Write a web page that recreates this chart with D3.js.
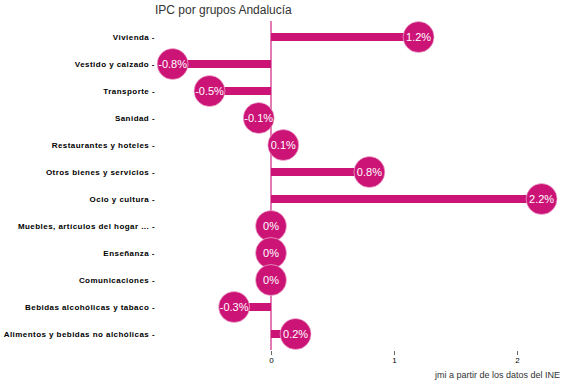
<!DOCTYPE html>
<html>
<head>
<meta charset="utf-8">
<script src="https://cdn.jsdelivr.net/npm/d3@7"></script>
<style>
body{margin:0;background:#fff;}
svg{font-family:"Liberation Sans",Arial,sans-serif;}
</style>
</head>
<body>
<svg id="chart" width="566" height="384"></svg>
<script>
const categories = ["Vivienda","Vestido y calzado","Transporte","Sanidad","Restaurantes y hoteles","Otros bienes y servicios","Ocio y cultura","Muebles, artículos del hogar ...","Enseñanza","Comunicaciones","Bebidas alcohólicas y tabaco","Alimentos y bebidas no alchólicas"];
const values = [1.2,-0.8,-0.5,-0.1,0.1,0.8,2.2,0,0,0,-0.3,0.2];
const labels = ["1.2%","-0.8%","-0.5%","-0.1%","0.1%","0.8%","2.2%","0%","0%","0%","-0.3%","0.2%"];
const xTicks = [0,1,2];
const title = "IPC por grupos Andalucía";
const caption = "jmi a partir de los datos del INE";

const color = "#cc1477";
const svg = d3.select("#chart");
const x = d3.scaleLinear().domain([0,1]).range([271,394]);
const y = d3.scaleBand().domain(categories).range([23.5,347.5]).padding(0);

// zero line
svg.append("line").attr("x1",x(0)).attr("x2",x(0)).attr("y1",21).attr("y2",350)
  .attr("stroke","#e27ab3").attr("stroke-width",2);

// y axis labels
const yAxis = d3.axisLeft(y).tickSize(0).tickPadding(0);
const gy = svg.append("g").attr("transform","translate(155,0)").call(yAxis);
gy.select(".domain").remove();
gy.selectAll(".tick line").remove();
gy.selectAll(".tick text").attr("fill","#000").style("font-size","8px").style("font-weight","600").style("letter-spacing","0.45px").attr("x",0)
  .text(d=>d+" -");

// x axis
const xAxis = d3.axisBottom(x).tickValues(xTicks).tickSize(4).tickPadding(2).tickFormat(d3.format("d"));
const gx = svg.append("g").attr("transform","translate(0,351)").call(xAxis);
gx.select(".domain").remove();
gx.selectAll(".tick line").attr("stroke","#666");
gx.selectAll(".tick text").attr("fill","#000").style("font-size","8px");

// bars
const bh = 8;
svg.append("g").selectAll("rect").data(values).join("rect")
  .attr("x",d=>Math.min(x(0),x(d)))
  .attr("width",d=>Math.abs(x(d)-x(0)))
  .attr("y",(d,i)=>y(categories[i])+y.bandwidth()/2-bh/2)
  .attr("height",bh)
  .attr("fill",color);

// circles
svg.append("g").selectAll("circle").data(values).join("circle")
  .attr("cx",d=>x(d))
  .attr("cy",(d,i)=>y(categories[i])+y.bandwidth()/2)
  .attr("r",15.5)
  .attr("fill",color)
  .attr("stroke","#f3c9df").attr("stroke-width",0.6);

svg.append("g").selectAll("text").data(values).join("text")
  .attr("x",d=>x(d))
  .attr("y",(d,i)=>y(categories[i])+y.bandwidth()/2)
  .attr("dy","0.36em")
  .attr("text-anchor","middle")
  .attr("fill","#fff")
  .style("font-size","11px")
  .text((d,i)=>labels[i]);

svg.append("text").attr("x",155).attr("y",14).attr("fill","#333").style("font-size","12px").text(title);
svg.append("text").attr("x",560).attr("y",378).attr("text-anchor","end").attr("fill","#333").style("font-size","9px").text(caption);
</script>
</body>
</html>
